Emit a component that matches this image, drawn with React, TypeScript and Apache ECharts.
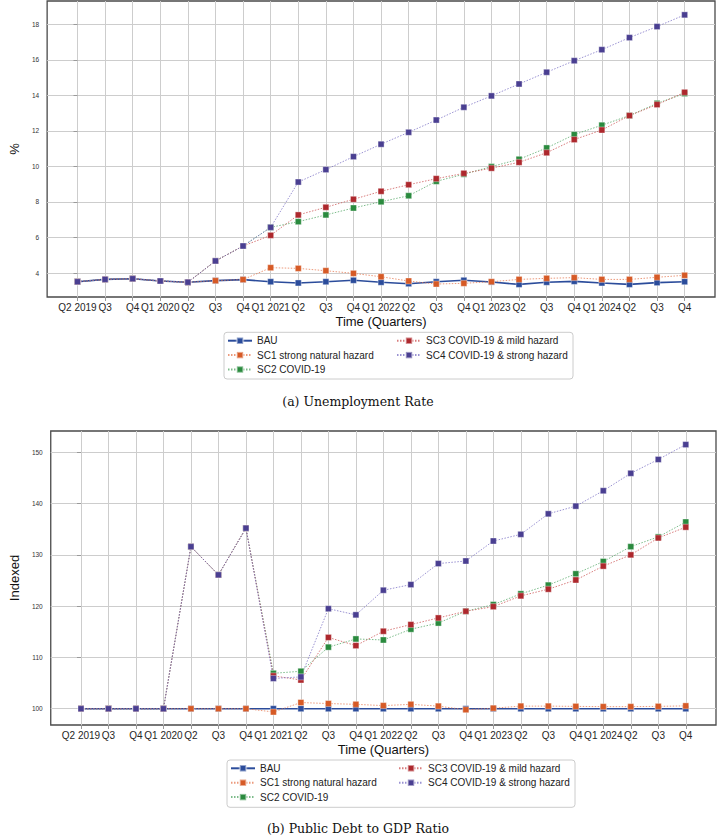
import React, { useEffect, useRef } from 'react';
import * as echarts from 'echarts';

const quarterLabels = [
  'Q2 2019', 'Q3', 'Q4', 'Q1 2020', 'Q2', 'Q3', 'Q4', 'Q1 2021', 'Q2', 'Q3', 'Q4',
  'Q1 2022', 'Q2', 'Q3', 'Q4', 'Q1 2023', 'Q2', 'Q3', 'Q4', 'Q1 2024', 'Q2', 'Q3', 'Q4',
];

const seriesNames = [
  'BAU',
  'SC1 strong natural hazard',
  'SC2 COVID-19',
  'SC3 COVID-19 & mild hazard',
  'SC4 COVID-19 & strong hazard',
];

// (a) Unemployment rate, %
const unempBAU = [3.51, 3.64, 3.68, 3.55, 3.48, 3.57, 3.63, 3.51, 3.44, 3.51, 3.59, 3.48, 3.40, 3.51, 3.59, 3.49, 3.36, 3.48, 3.53, 3.44, 3.36, 3.46, 3.51];
const unempSC1 = [3.51, 3.64, 3.68, 3.55, 3.48, 3.57, 3.63, 4.30, 4.26, 4.13, 3.98, 3.79, 3.55, 3.38, 3.42, 3.51, 3.64, 3.70, 3.74, 3.64, 3.64, 3.76, 3.87];
const unempSC2 = [3.51, 3.64, 3.68, 3.55, 3.48, 4.68, 5.52, 6.57, 6.89, 7.27, 7.66, 8.01, 8.35, 9.16, 9.56, 9.99, 10.40, 11.04, 11.79, 12.32, 12.86, 13.55, 14.10];
const unempSC3 = [3.51, 3.64, 3.68, 3.55, 3.48, 4.68, 5.52, 6.12, 7.27, 7.70, 8.15, 8.60, 8.97, 9.31, 9.61, 9.90, 10.23, 10.77, 11.51, 12.05, 12.86, 13.48, 14.17];
const unempSC4 = [3.51, 3.64, 3.68, 3.55, 3.48, 4.68, 5.52, 6.57, 9.12, 9.82, 10.55, 11.25, 11.92, 12.61, 13.33, 13.97, 14.64, 15.30, 15.95, 16.57, 17.25, 17.87, 18.53];

// (b) Public debt to GDP ratio, indexed
const debtBAU = [100, 100, 100, 100, 100, 100, 100, 100, 100, 100, 100, 100, 100, 100, 100, 100, 100, 100, 100, 100, 100, 100, 100];
const debtSC1 = [100, 100, 100, 100, 100, 100, 100, 99.36, 101.2, 101.0, 100.85, 100.6, 100.85, 100.5, 99.8, 100.1, 100.5, 100.5, 100.45, 100.4, 100.4, 100.45, 100.55];
const debtSC2 = [100, 100, 100, 100, 131.6, 126.1, 135.2, 106.9, 107.3, 112.0, 113.6, 113.4, 115.5, 116.7, 119.0, 120.3, 122.4, 124.1, 126.3, 128.7, 131.6, 133.5, 136.4];
const debtSC3 = [100, 100, 100, 100, 131.6, 126.1, 135.2, 106.4, 105.6, 113.9, 112.3, 115.1, 116.4, 117.7, 119.0, 119.9, 122.0, 123.3, 125.1, 127.8, 130.0, 133.3, 135.4];
const debtSC4 = [100, 100, 100, 100, 131.6, 126.1, 135.2, 105.9, 106.2, 119.5, 118.3, 123.1, 124.2, 128.3, 128.8, 132.7, 134.0, 138.0, 139.5, 142.5, 145.9, 148.6, 151.5];

const unempTicks = [4, 6, 8, 10, 12, 14, 16, 18];
const debtTicks = [100, 110, 120, 130, 140, 150];

const markerColors = ['#2b4c9b', '#d65a26', '#2a8a3e', '#ad282d', '#4a3f91'];
const lineColors = ['#2b4c9b', 'rgba(230,120,80,0.75)', 'rgba(70,160,90,0.7)', 'rgba(200,70,70,0.7)', 'rgba(120,110,195,0.75)'];

const SANS = "'Liberation Sans', Arial, Helvetica, sans-serif";

export default function App() {
  const ref = useRef<HTMLDivElement>(null);

  useEffect(() => {
    document.body.style.margin = '0';
    const chart = echarts.init(ref.current!, null, { renderer: 'svg' });
    const idx = quarterLabels.map((_, i) => i);

    const makeX = (gridIndex: number) => ({
      type: 'value',
      gridIndex,
      min: -1.1,
      max: 23.1,
      axisLine: { show: false },
      axisTick: { show: true, customValues: idx, length: 4, lineStyle: { color: '#9a9a9a', width: 1 } },
      axisLabel: {
        customValues: idx,
        formatter: (v: number) => quarterLabels[Math.round(v)] ?? '',
        fontSize: 10,
        color: '#262626',
        margin: 5,
        fontFamily: SANS,
      },
      splitLine: { show: true, lineStyle: { color: '#cdcdcd', width: 1 } },
      name: 'Time (Quarters)',
      nameLocation: 'middle',
      nameGap: 18,
      nameTextStyle: { fontSize: 13, color: '#111', fontFamily: SANS },
    });

    const makeY = (gridIndex: number, min: number, max: number, ticks: number[], name: string, gap: number) => ({
      type: 'value',
      gridIndex,
      min,
      max,
      axisLine: { show: false },
      axisTick: { show: true, customValues: ticks, length: 4, lineStyle: { color: '#9a9a9a', width: 1 } },
      axisLabel: { customValues: ticks, fontSize: 6.5, color: '#333', margin: 8, fontFamily: SANS },
      splitLine: { show: true, lineStyle: { color: '#cdcdcd', width: 1 } },
      name,
      nameLocation: 'middle',
      nameGap: gap,
      nameRotate: 90,
      nameTextStyle: { fontSize: 13, color: '#111', fontFamily: SANS },
    });

    const makeSeries = (data: number[][], gi: number) =>
      data.map((vals, k) => ({
        type: 'line',
        name: seriesNames[k],
        xAxisIndex: gi,
        yAxisIndex: gi,
        data: vals.map((v, i) => [i, v]),
        symbol: 'rect',
        symbolSize: 6,
        showSymbol: true,
        itemStyle: { color: markerColors[k], borderColor: 'rgba(255,255,255,0.45)', borderWidth: 0.8 },
        lineStyle: { color: lineColors[k], width: k === 0 ? 1.6 : 1, type: k === 0 ? 'solid' : [1.5, 1.5] },
        emphasis: { disabled: true },
      }));

    const legendBase = {
      orient: 'vertical',
      itemWidth: 24,
      itemHeight: 8,
      itemGap: 2.4,
      padding: 0,
      selectedMode: false,
      textStyle: { fontSize: 10, lineHeight: 12, color: '#222', fontFamily: SANS },
    };

    const option: any = {
      animation: false,
      backgroundColor: '#fff',
      textStyle: { fontFamily: SANS },
      grid: [
        { left: 31, top: 1, width: 684, height: 296, show: true, borderColor: '#4a4a4a', borderWidth: 1.3, backgroundColor: '#fff' },
        { left: 35, top: 431, width: 681, height: 294, show: true, borderColor: '#4a4a4a', borderWidth: 1.3, backgroundColor: '#fff' },
      ],
      xAxis: [makeX(0), makeX(1)],
      yAxis: [
        makeY(0, 2.65, 19.31, unempTicks, '%', 15),
        makeY(1, 96.82, 154.15, debtTicks, 'Indexed', 21),
      ],
      legend: [
        { ...legendBase, data: seriesNames.slice(0, 3), left: 227, top: 334.7 },
        { ...legendBase, data: seriesNames.slice(3), left: 396, top: 334.7 },
        { ...legendBase, data: seriesNames.slice(0, 3), left: 230, top: 762.3 },
        { ...legendBase, data: seriesNames.slice(3), left: 398, top: 762.3 },
      ],
      graphic: [
        { type: 'rect', shape: { x: 224, y: 332.3, width: 349, height: 46.7, r: 3 }, style: { fill: '#fff', stroke: '#cccccc', lineWidth: 1 } },
        { type: 'rect', shape: { x: 227, y: 760, width: 348, height: 47.3, r: 3 }, style: { fill: '#fff', stroke: '#cccccc', lineWidth: 1 } },
        { type: 'text', x: 358, y: 401.7, style: { text: '(a) Unemployment Rate', font: "12.5px 'DejaVu Serif', serif", fill: '#111', textAlign: 'center', textVerticalAlign: 'middle' } },
        { type: 'text', x: 358, y: 828.3, style: { text: '(b) Public Debt to GDP Ratio', font: "12.5px 'DejaVu Serif', serif", fill: '#111', textAlign: 'center', textVerticalAlign: 'middle' } },
      ],
      series: [
        ...makeSeries([unempBAU, unempSC1, unempSC2, unempSC3, unempSC4], 0),
        ...makeSeries([debtBAU, debtSC1, debtSC2, debtSC3, debtSC4], 1),
      ],
    };

    chart.setOption(option);
    return () => chart.dispose();
  }, []);

  return <div ref={ref} style={{ width: 717, height: 836 }} />;
}
